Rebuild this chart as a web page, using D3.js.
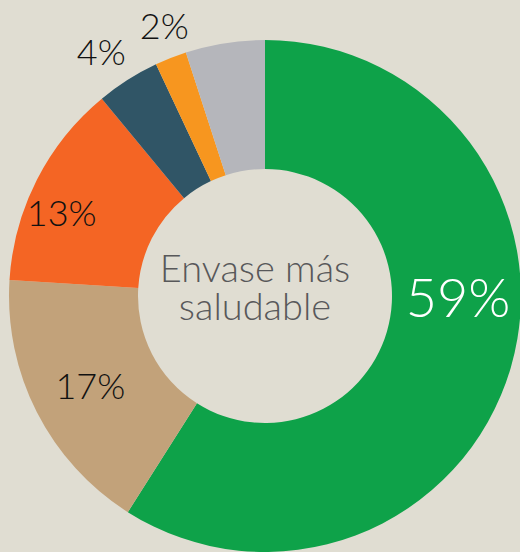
<!DOCTYPE html>
<html lang="es">
  <head>
    <meta charset="utf-8">
    <title>Envase más saludable</title>
    <script src="https://d3js.org/d3.v7.min.js"></script>
    <style>
      body { margin: 0; background: #e0ddd2; }
      svg text { font-family: Lato, "Open Sans", sans-serif; font-weight: 300; }
    </style>
  </head>
  <body>
<script>
// slices, clockwise from 12 o'clock
const categories = ["a", "b", "c", "d", "e", "f"];
const values = [59, 17, 13, 4, 2, 5];
const labels = ["59%", "17%", "13%", "4%", "2%", ""];
const colors = ["#0ea249", "#c2a27a", "#f46524", "#305566", "#f7961f", "#b5b6bb"];

const width = 520, height = 552;
const cx = 265, cy = 296;
const outerR = 256, innerR = 127;

// label placement: [angle (deg, clockwise from top), radius, font size, fill]
const labelPos = [
  [90, 193, 54, "#ffffff"],
  [243, 196, 36, "#111111"],
  [292.5, 220, 36, "#111111"],
  [326.3, 295, 36, "#111111"],
  [339.6, 289, 36, "#111111"],
  [0, 0, 0, "none"]
];

const svg = d3.select("body").append("svg")
  .attr("width", width)
  .attr("height", height);

svg.append("rect").attr("width", width).attr("height", height).attr("fill", "#e0ddd2");

const pie = d3.pie().sort(null).value(d => d)(values);
const arc = d3.arc().innerRadius(innerR).outerRadius(outerR);

const g = svg.append("g").attr("transform", `translate(${cx},${cy})`);

g.selectAll("path")
  .data(pie)
  .join("path")
  .attr("d", arc)
  .attr("fill", (d, i) => colors[i]);

g.selectAll("text.lbl")
  .data(pie)
  .join("text")
  .attr("class", "lbl")
  .attr("text-anchor", "middle")
  .attr("dominant-baseline", "central")
  .attr("x", (d, i) => labelPos[i][1] * Math.sin(labelPos[i][0] * Math.PI / 180))
  .attr("y", (d, i) => -labelPos[i][1] * Math.cos(labelPos[i][0] * Math.PI / 180))
  .attr("font-size", (d, i) => labelPos[i][2])
  .attr("fill", (d, i) => labelPos[i][3])
  .text((d, i) => labels[i]);

// centre title
const title = g.append("text")
  .attr("text-anchor", "middle")
  .attr("fill", "#58585a")
  .attr("font-size", 38);
title.append("tspan").attr("x", -10).attr("y", -14).text("Envase más");
title.append("tspan").attr("x", -10).attr("y", 24).text("saludable");
</script>
  </body>
</html>
